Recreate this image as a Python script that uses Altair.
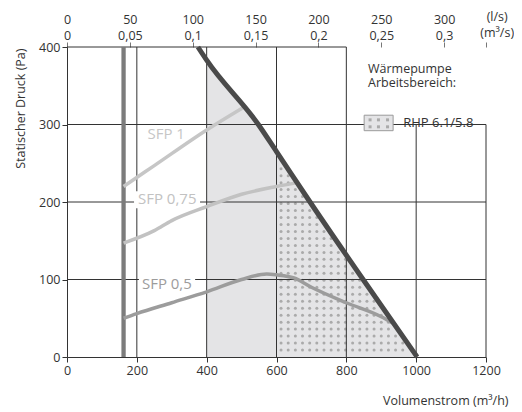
import altair as alt
import pandas as pd
import numpy as np

# ---- data ----
fan_x = [375, 400, 548, 600, 696, 848, 1003]
fan_y = [400, 383, 300, 265, 200, 100, 0]

sfp1_x = [162, 250, 400, 505]
sfp1_y = [220, 247, 293, 322]
sfp075_x = [162, 250, 300, 400, 500, 600, 660]
sfp075_y = [147, 163, 176, 194, 210, 220, 225]
sfp05_x = [162, 200, 300, 400, 500, 572, 600, 650, 700, 800, 900, 932]
sfp05_y = [50, 56, 70, 84, 100, 107, 106, 102, 90, 70, 52, 44]
min_flow = 162

shade_start = 400
dot_start = 600

x_ticks = [0, 200, 400, 600, 800, 1000, 1200]
y_ticks = [0, 100, 200, 300, 400]
ls_ticks = [0, 50, 100, 150, 200, 250, 300, 1200 / 3.6]

grid_v_x = [200, 400, 600, 800, 1000, 1200]
grid_v_top = [400, 400, 400, 400, 300, 300]
grid_h_y = [100, 200, 300, 400]
grid_h_right = [1200, 1200, 1200, 800]

sfp_labels = ["SFP 1", "SFP 0,75", "SFP 0,5"]
sfp_lab_x = [284, 287, 286]
sfp_lab_y = [288, 204, 94]
sfp_box_x0 = [229, 192, 206]
sfp_box_x1 = [347, 381, 367]
sfp_box_y0 = [275, 192, 83]
sfp_box_y1 = [298, 214, 104]
sfp_colors = ["#c6c6c6", "#c2c2c2", "#9c9c9c"]

C = "#333333"
FONT = "Open Sans"

XS = alt.Scale(domain=[0, 1200], nice=False, zero=False)
YS = alt.Scale(domain=[0, 400], nice=False, zero=False)

XA = alt.Axis(values=x_ticks, title="Volumenstrom (m³/h)", grid=False, tickSize=5, format="d",
              labelFlush=False, labelOverlap=False, labelPadding=2,
              titleAnchor="end", titleAlign="right", titleX=441, titleY=43,
              titleBaseline="middle", domainColor=C, tickColor=C)
YA = alt.Axis(values=y_ticks, title="Statischer Druck (Pa)", grid=False, tickSize=5, format="d",
              labelFlush=False, labelOverlap=False, labelPadding=2,
              titleAnchor="end", titleAlign="right", titleAngle=-90, titleX=-47, titleY=1,
              titleBaseline="middle", domainColor=C, tickColor=C)


def X(f):
    return alt.X(f, scale=XS, axis=XA, title="Volumenstrom (m³/h)")


def Y(f):
    return alt.Y(f, scale=YS, axis=YA, title="Statischer Druck (Pa)")


# ---- tables ----
fan_df = pd.DataFrame({"x": fan_x, "y": fan_y})
shade_df = fan_df[fan_df.x >= shade_start].copy()

gx, gy = np.meshgrid(np.arange(613, 1000, 20.5), np.arange(9, 300, 9.0))
gx, gy = gx.ravel(), gy.ravel()
mask = gy < np.interp(gx, fan_x, fan_y) - 6
dots_df = pd.DataFrame({"x": gx[mask], "y": gy[mask]})

vgrid = pd.DataFrame({"x": grid_v_x, "y0": 0, "y1": grid_v_top})
hgrid = pd.DataFrame({"y": grid_h_y, "x0": 0, "x1": grid_h_right})

sfp_df = pd.concat([
    pd.DataFrame({"x": sfp1_x, "y": sfp1_y, "s": "SFP 1"}),
    pd.DataFrame({"x": sfp075_x, "y": sfp075_y, "s": "SFP 0,75"}),
    pd.DataFrame({"x": sfp05_x, "y": sfp05_y, "s": "SFP 0,5"}),
])
lab_df = pd.DataFrame({"t": sfp_labels, "x": sfp_lab_x, "y": sfp_lab_y,
                       "x0": sfp_box_x0, "x1": sfp_box_x1,
                       "y0": sfp_box_y0, "y1": sfp_box_y1})

legend_txt = pd.DataFrame({"x": [862], "y": [371], "t": [["Wärmepumpe", "Arbeitsbereich:"]]})
legend_sw = pd.DataFrame({"x0": [851], "x1": [934], "y0": [292], "y1": [312]})
legend_dots = pd.DataFrame({"x": [868, 892, 918, 868, 892, 918], "y": [306, 306, 306, 297, 297, 297]})
legend_lab = pd.DataFrame({"x": [963], "y": [302], "t": ["RHP 6.1/5.8"]})
units_df = pd.DataFrame({"x": [1232, 1232], "y": [439, 418], "t": ["(l/s)", "(m³/s)"]})

# ---- layers ----
area = alt.Chart(shade_df).mark_area(color="#e4e4e6", interpolate="monotone").encode(
    x=X("x:Q"), y=Y("y:Q"), y2=alt.datum(0))

dots = alt.Chart(dots_df).mark_circle(color="#aaaaaa", size=9, opacity=1).encode(
    x=X("x:Q"), y=Y("y:Q"))

vg = alt.Chart(vgrid).mark_rule(color=C, strokeWidth=1).encode(
    x=X("x:Q"), y=Y("y0:Q"), y2="y1:Q")
hg = alt.Chart(hgrid).mark_rule(color=C, strokeWidth=1).encode(
    y=Y("y:Q"), x=X("x0:Q"), x2="x1:Q")

boxes = alt.Chart(lab_df).mark_rect(color="white").encode(
    x=X("x0:Q"), x2="x1:Q", y=Y("y0:Q"), y2="y1:Q")

minline = alt.Chart(pd.DataFrame({"x": [min_flow], "y0": [0], "y1": [400]})).mark_rule(
    color="#7c7c7c", strokeWidth=4.3).encode(x=X("x:Q"), y=Y("y0:Q"), y2="y1:Q")

sfp = alt.Chart(sfp_df).mark_line(strokeWidth=3.5, interpolate="monotone").encode(
    x=X("x:Q"), y=Y("y:Q"),
    color=alt.Color("s:N", scale=alt.Scale(domain=sfp_labels, range=sfp_colors), legend=None))

fan = alt.Chart(fan_df).mark_line(color="#4a4a4a", strokeWidth=5, interpolate="monotone").encode(
    x=X("x:Q"), y=Y("y:Q"))

labels = alt.Chart(lab_df).mark_text(fontSize=15, font=FONT, baseline="middle", align="center").encode(
    x=X("x:Q"), y=Y("y:Q"), text="t:N",
    color=alt.Color("t:N", scale=alt.Scale(domain=sfp_labels, range=["#c8c8c8", "#c4c4c4", "#9e9e9e"]), legend=None))

ltxt = alt.Chart(legend_txt).mark_text(fontSize=12.5, font=FONT, align="left", baseline="middle",
                                       color=C, lineHeight=14).encode(
    x=X("x:Q"), y=Y("y:Q"), text="t")
lsw = alt.Chart(legend_sw).mark_rect(fill="#e4e4e6", stroke="#9a9a9a", strokeWidth=1).encode(
    x=X("x0:Q"), x2="x1:Q", y=Y("y0:Q"), y2="y1:Q")
ldots = alt.Chart(legend_dots).mark_square(color="#aaaaaa", size=9, opacity=1).encode(
    x=X("x:Q"), y=Y("y:Q"))
llab = alt.Chart(legend_lab).mark_text(fontSize=13, font=FONT, align="left", baseline="middle", color=C).encode(
    x=X("x:Q"), y=Y("y:Q"), text="t:N")
units = alt.Chart(units_df).mark_text(fontSize=12.5, font=FONT, align="center", baseline="middle", color=C).encode(
    x=X("x:Q"), y=Y("y:Q"), text="t:N")

main = alt.layer(area, dots, vg, hg, boxes, minline, sfp, fan, labels, ltxt, lsw, ldots, llab, units)

top = alt.Chart(pd.DataFrame({"ls": ls_ticks})).mark_point(opacity=0).encode(
    x=alt.X("ls:Q", scale=alt.Scale(domain=[0, 1200 / 3.6], nice=False, zero=False),
            axis=alt.Axis(orient="top", values=ls_ticks, title=None, grid=False, domain=False,
                          tickSize=5, tickColor="#777777", labelFlush=False, labelOverlap=False,
                          labelPadding=16, labelLineHeight=16,
                          labelExpr="datum.value > 320 ? '' : [format(datum.value, 'd'), replace(format(datum.value / 1000, '.2~f'), '.', ',')]")),
    y=alt.value(0),
)

chart = alt.layer(main, top).resolve_scale(x="independent").properties(
    width=419, height=310,
    autosize=alt.AutoSizeParams(type="none"),
    padding={"left": 59, "top": 39, "right": 28, "bottom": 54},
).configure(font=FONT).configure_view(stroke=None).configure_axis(
    labelFont=FONT, titleFont=FONT, labelFontSize=12.5, titleFontSize=12.5,
    labelColor=C, titleColor=C, titleFontWeight="normal")

chart.save("out.html", embed_options={"renderer": "svg", "actions": False})
